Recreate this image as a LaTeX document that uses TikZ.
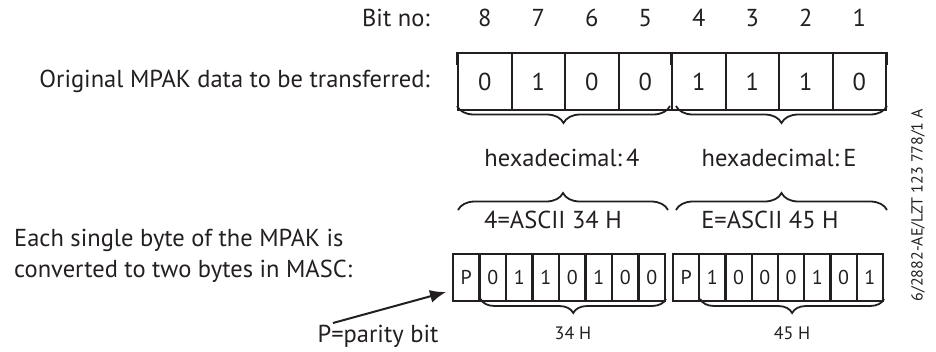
\documentclass[tikz,border=0pt]{standalone}
\usepackage{fontspec}
\setmainfont{PT Sans}
\usetikzlibrary{decorations.pathreplacing,arrows.meta}
\definecolor{ink}{HTML}{231F20}
\begin{document}
\begin{tikzpicture}[x=1pt,y=-1pt,
  big/.style={font=\fontsize{24.5}{31}\selectfont, text=ink, inner sep=0pt},
  small/.style={font=\fontsize{18}{20}\selectfont, text=ink, inner sep=0pt},
  topcell/.style={draw=ink, line width=2pt, minimum width=53.5pt, minimum height=57pt, inner sep=0pt, font=\fontsize{24.5}{26}\selectfont, text=ink},
  botcell/.style={draw=ink, line width=2pt, minimum width=26.4pt, minimum height=47pt, inner sep=0pt, font=\fontsize{20}{22}\selectfont, text=ink},
  bracestyle/.style={draw=ink, line width=1.8pt, decorate, decoration={brace, amplitude=#1}},
  bracestyle/.default=16pt,
  tick/.style={draw=ink, line width=2pt}
]
\useasboundingbox (0,0) rectangle (936,351);

% bit numbers and top cells
\foreach \b/\v [count=\i from 0] in {8/0,7/1,6/0,5/0,4/1,3/1,2/1,1/0} {
  \node[big] (n\b) at (484.75+53.5*\i,18) {\b};
  \node[topcell] (t\b) at (484.75+53.5*\i,81.5) {\v};
}
\node[big, anchor=east] (bitno) at (430,18) {Bit no:};
\node[big, anchor=east] (orig) at (430,81.5) {Original MPAK data to be transferred:};

% ticks above the register
\coordinate (k1) at ([yshift=-13pt]t8.north west);
\coordinate (k2) at ([yshift=-13pt]t4.north west);
\coordinate (k3) at ([yshift=-13pt]t1.north east);
\draw[tick] (t8.north west) -- (k1);
\draw[tick] (t4.north west) -- (k2);
\draw[tick] (t1.north east) -- (k3);

% braces under top register
\coordinate (b1s) at ([yshift=5pt]t8.south west);
\coordinate (b1e) at ([xshift=-3pt,yshift=5pt]t5.south east);
\coordinate (b2s) at ([xshift=5pt,yshift=5pt]t4.south west);
\coordinate (b2e) at ([yshift=5pt]t1.south east);
\draw[bracestyle=17pt, decoration={mirror}] (b1s) -- (b1e);
\draw[bracestyle=17pt, decoration={mirror}] (b2s) -- (b2e);

\node[big] (hex4) at (562,158) {hexadecimal:\,4};
\node[big] (hexE) at (779,158) {hexadecimal:\,E};

% upward braces
\coordinate (u1s) at (458,210);
\coordinate (u1e) at (668,210);
\coordinate (u2s) at (676,210);
\coordinate (u2e) at (887,210);
\draw[bracestyle=17pt] (u1s) -- (u1e);
\draw[bracestyle=17pt] (u2s) -- (u2e);

\node[big] (asc4) at (553,220) {4=ASCII 34 H};
\node[big] (ascE) at (770,220) {E=ASCII 45 H};

% bottom cells
\foreach \v [count=\i from 0] in {P,0,1,1,0,1,0,0} {
  \node[botcell] (a\i) at (466.25+26.5*\i,277.5) {\v};
}
\foreach \v [count=\i from 0] in {P,1,0,0,0,1,0,1} {
  \node[botcell] (c\i) at (686.1+26.25*\i,277.5) {\v};
}

% braces under bottom cells
\coordinate (d1s) at ([xshift=2pt,yshift=3pt]a1.south west);
\coordinate (d1e) at ([yshift=3pt]a7.south east);
\coordinate (d2s) at ([xshift=2pt,yshift=3pt]c1.south west);
\coordinate (d2e) at ([yshift=3pt]c7.south east);
\draw[bracestyle=14pt, decoration={mirror}] (d1s) -- (d1e);
\draw[bracestyle=14pt, decoration={mirror}] (d2s) -- (d2e);
\node[small] (h34) at (573,333) {34 H};
\node[small] (h45) at (792,333) {45 H};

% left text
\node[big, anchor=west, align=left] (each) at (14,256) {Each single byte of the MPAK is\\converted to two bytes in MASC:};

% parity label and arrow
\node[big] (par) at (378,336) {P=parity bit};
\coordinate (pstart) at (333,323);
\coordinate (ptip) at (446,292);
\draw[draw=ink, line width=2pt, -{Latex[length=16pt,width=13pt]}] (pstart) -- (ptip);

% reference code
\node[font=\fontsize{16}{18}\selectfont, text=ink, rotate=90, inner sep=0pt] (ref) at (918,205) {6/2882-AE/LZT 123 778/1 A};
\end{tikzpicture}
\end{document}
